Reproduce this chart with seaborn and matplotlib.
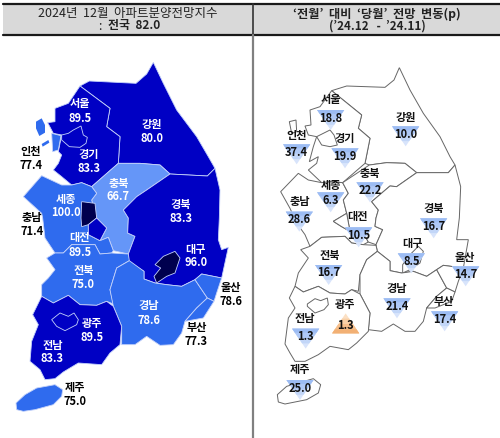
import matplotlib
matplotlib.use("Agg")
import matplotlib.pyplot as plt
import pandas as pd
import seaborn as sns

regions = ["서울", "인천", "경기", "강원", "충북", "세종", "충남", "대전", "경북", "대구", "전북", "울산", "경남", "부산", "광주", "전남", "제주"]
index_values = [89.5, 77.4, 83.3, 80.0, 66.7, 100.0, 71.4, 89.5, 83.3, 96.0, 75.0, 78.6, 78.6, 77.3, 89.5, 83.3, 75.0]
change_values = [18.8, 37.4, 19.9, 10.0, 22.2, 6.3, 28.6, 10.5, 16.7, 8.5, 16.7, 14.7, 21.4, 17.4, 1.3, 1.3, 25.0]
change_signs = ["하락"] * 14 + ["상승"] + ["하락"] * 2

# map outlines at 3x, y runs down the page
left_map = {
    "강원": [(240,258),(268,243),(408,250),(440,222),(460,187),(490,250),(530,330),(590,410),(625,470),(645,505),(622,528),(510,522),(480,495),(420,490),(355,490),(360,410),(320,380),(330,325)],
    "경기": [(240,258),(330,325),(320,380),(360,410),(355,490),(275,560),(245,548),(215,555),(185,530),(160,510),(175,490),(185,465),(175,455),(185,405),(160,400),(143,368),(165,365),(165,325),(205,310)],
    "충북": [(355,490),(420,490),(480,495),(510,522),(440,570),(410,590),(370,630),(385,654),(383,699),(405,709),(385,762),(340,752),(325,712),(300,722),(320,684),(290,654),(285,640),(275,600),(290,580),(275,560)],
    "충남": [(70,590),(125,527),(185,555),(215,555),(245,548),(275,560),(290,580),(275,600),(285,640),(290,654),(265,674),(265,704),(300,722),(325,712),(340,752),(335,759),(300,762),(285,734),(215,734),(190,759),(165,759),(135,714),(128,654),(125,640)],
    "세종": [(245,605),(285,610),(290,654),(265,674),(245,680),(243,654)],
    "대전": [(290,654),(320,684),(300,722),(265,704),(265,674)],
    "경북": [(510,522),(622,528),(645,505),(660,570),(658,654),(655,719),(665,749),(685,742),(665,834),(605,822),(585,839),(545,859),(500,854),(465,849),(432,837),(432,814),(385,784),(385,762),(405,709),(383,699),(385,654),(370,630),(410,590),(440,570)],
    "대구": [(465,794),(490,769),(525,754),(540,774),(525,819),(500,829),(470,849),(462,829),(482,804)],
    "전북": [(140,774),(165,759),(190,759),(215,734),(285,734),(300,762),(335,759),(385,762),(388,782),(350,804),(330,869),(340,912),(320,904),(290,916),(240,914),(205,886),(160,909),(125,889),(125,854),(145,834),(165,809)],
    "경남": [(330,869),(350,804),(388,782),(432,814),(432,837),(465,849),(500,854),(545,859),(585,839),(622,894),(590,924),(555,964),(545,999),(520,1034),(480,1036),(440,1009),(405,1034),(365,1034),(365,979),(340,919)],
    "울산": [(585,839),(605,822),(665,834),(650,879),(642,904),(622,894)],
    "부산": [(622,894),(642,904),(610,954),(555,964),(590,924)],
    "전남": [(125,889),(160,909),(205,886),(240,914),(290,916),(320,904),(340,919),(365,979),(360,1034),(330,1059),(305,1094),(235,1089),(190,1116),(165,1136),(135,1139),(120,1109),(90,1084),(95,1024),(115,974),(98,944)],
    "광주": [(155,959),(180,939),(205,949),(222,939),(235,959),(230,974),(195,992),(170,979)],
    "서울": [(185,405),(205,400),(220,390),(243,378),(250,405),(262,412),(258,430),(240,442),(208,440),(185,420)],
    "인천": [(155,400),(183,407),(175,450),(158,455)],
    "제주": [(48,1209),(75,1184),(110,1164),(165,1154),(188,1169),(185,1189),(160,1214),(105,1229),(70,1234),(50,1229)],
}
incheon_islands = [
    [(108,365),(125,355),(135,375),(135,398),(118,408),(108,385)],
    [(125,432),(145,420),(148,428),(128,440)],
]
right_map = {
    "강원": [(245,272),(290,258),(405,262),(432,240),(448,203),(480,270),(520,340),(570,410),(600,470),(615,495),(595,518),(500,518),(465,490),(410,488),(358,495),(345,490),(360,415),(325,385),(335,345)],
    "경기": [(245,272),(335,345),(325,385),(360,415),(345,490),(278,548),(245,545),(215,548),(175,510),(200,490),(205,470),(178,485),(190,440),(200,410),(175,405),(165,378),(183,375),(180,330),(210,320)],
    "서울": [(200,410),(240,390),(252,405),(262,435),(240,440),(215,435)],
    "인천": [(118,365),(138,360),(140,395),(125,400)],
    "충남": [(92,575),(145,520),(175,540),(215,548),(245,545),(278,548),(295,580),(280,600),(290,640),(250,664),(275,680),(300,694),(340,699),(355,726),(340,734),(305,729),(285,709),(215,712),(180,739),(165,704),(140,669),(120,625)],
    "충북": [(358,495),(410,488),(465,490),(500,518),(440,560),(420,558),(365,605),(385,630),(378,654),(375,679),(398,689),(378,734),(355,726),(340,699),(300,694),(290,640),(280,600),(295,580),(278,548)],
    "대전": [(250,664),(290,640),(300,694),(275,680)],
    "경북": [(500,518),(595,518),(615,495),(632,560),(628,654),(620,719),(655,719),(640,804),(580,796),(560,809),(530,829),(490,814),(455,819),(420,812),(420,784),(382,754),(378,734),(398,689),(375,679),(378,654),(385,630),(365,605),(420,558),(440,560)],
    "대구": [(458,794),(480,764),(505,739),(520,754),(510,789),(480,809),(458,819)],
    "전북": [(152,749),(180,739),(215,712),(285,709),(305,729),(340,734),(378,736),(382,754),(350,779),(330,824),(325,874),(305,869),(285,882),(240,879),(205,859),(160,876),(135,859),(145,819),(175,774)],
    "경남": [(330,824),(350,779),(382,754),(420,784),(420,812),(455,819),(490,814),(530,829),(560,809),(590,864),(560,889),(530,924),(520,964),(495,994),(465,994),(430,972),(395,994),(355,989),(360,939),(330,882)],
    "울산": [(560,809),(580,796),(640,804),(625,844),(615,876),(590,864)],
    "부산": [(590,864),(615,876),(605,904),(555,924),(530,924),(560,889)],
    "전남": [(135,859),(160,876),(205,859),(240,879),(285,882),(305,869),(330,882),(360,939),(355,994),(320,1029),(295,1049),(240,1039),(205,1064),(165,1084),(135,1084),(120,1059),(105,1032),(115,954),(135,924),(118,894)],
    "광주": [(172,912),(195,896),(212,902),(232,894),(235,914),(222,929),(195,939),(172,919)],
    "제주": [(82,1184),(110,1159),(190,1136),(212,1154),(205,1179),(170,1199),(105,1212),(85,1206)],
}

# label spots, 3x px, left picture: name centre, right picture: name centre and triangle centre
left_spots = {
    "서울": (241,333), "인천": (92,476), "경기": (267,485), "강원": (455,394), "충북": (355,570), "세종": (197,618),
    "충남": (96,674), "대전": (239,735), "경북": (543,634), "대구": (587,768), "전북": (250,833), "울산": (692,884),
    "경남": (447,939), "부산": (589,1004), "광주": (275,991), "전남": (157,1056), "제주": (225,1184),
}
right_spots = {
    "서울": (243,300), "인천": (140,406), "경기": (284,415), "강원": (467,352), "충북": (360,520), "세종": (242,557),
    "충남": (148,604), "대전": (324,650), "경북": (551,625), "대구": (487,731), "전북": (238,768), "울산": (645,773),
    "경남": (441,865), "부산": (582,905), "광주": (286,914), "전남": (165,955), "제주": (150,1110),
}
right_marks = {
    "서울": (242,360), "인천": (140,463), "경기": (285,475), "강원": (467,409), "충북": (360,577), "세종": (242,607),
    "충남": (148,665), "대전": (326,712), "경북": (551,685), "대구": (484,790), "전북": (236,825), "울산": (647,829),
    "경남": (441,925), "부산": (584,964), "광주": (287,970), "전남": (167,1016), "제주": (150,1170),
}

sns.set_theme(style="white")
plt.rcParams["font.family"] = ["Noto Sans CJK KR", "DejaVu Sans"]


def fill_color(value):
    if value >= 95:
        return "#00004e"
    if value >= 80:
        return "#0000c4"
    if value >= 70:
        return "#2f6bee"
    return "#6596f8"


def scaled(points, dx=0):
    return [(x / 3 + dx) for x, y in points], [y / 3 for x, y in points]


def band(y_top, y_bottom):
    # slice of a down-pointing triangle between two heights, keeps the full triangle scale
    half_top = (y_top + 0.74) / 1.48
    half_bottom = (y_bottom + 0.74) / 1.48
    return [(-half_top, y_top), (half_top, y_top), (half_bottom, y_bottom), (-half_bottom, y_bottom)]


def flipped(shape):
    return [(x, -y) for x, y in shape]


fig = plt.figure(figsize=(5, 4.38), dpi=100)
ax = fig.add_axes([0, 0, 1, 1])

# table header
ax.fill_between([3, 500], 5, 35, color="#d9d9d9", lw=0, zorder=0)
ax.plot([3, 500], [4, 4], color="#1a1a1a", lw=1.6)
ax.plot([3, 500], [35, 35], color="#1a1a1a", lw=1.6)
ax.plot([252.7, 252.7], [4, 35], color="#333333", lw=1.2)
ax.plot([252.7, 252.7], [35, 438], color="#808080", lw=1.6)

ax.text(128, 14, "2024년  12월  아파트분양전망지수", ha="center", va="center", fontsize=9, color="#222222")
ax.text(98, 26, ":", ha="left", va="center", fontsize=8.6, color="#222222")
ax.text(108, 26, "전국  82.0", ha="left", va="center", fontsize=8.6, fontweight="bold", color="#222222")
ax.text(377, 14, "‘전월’  대비  ‘당월’  전망  변동(p)", ha="center", va="center", fontsize=8.8, fontweight="bold", color="#222222")
ax.text(377, 26, "(’24.12   -  ’24.11)", ha="center", va="center", fontsize=8.4, fontweight="bold", color="#222222")

# left map
index_by_region = dict(zip(regions, index_values))
for name, outline in left_map.items():
    xs, ys = scaled(outline)
    ax.fill(xs, ys, facecolor=fill_color(index_by_region[name]), edgecolor="#c4d2fa", lw=0.6, zorder=2)
for outline in incheon_islands:
    xs, ys = scaled(outline)
    ax.fill(xs, ys, facecolor=fill_color(index_by_region["인천"]), edgecolor="none", zorder=2)

outside = {"인천", "충남", "울산", "부산", "제주"}
for name, value in zip(regions, index_values):
    x, y = left_spots[name]
    color = "black" if name in outside else "white"
    ax.text(x / 3, y / 3 - 7, name, ha="center", va="center", fontsize=8, fontweight="bold", color=color, zorder=4)
    ax.text(x / 3, y / 3 + 7, f"{value:.1f}", ha="center", va="center", fontsize=8, fontweight="bold", color=color, zorder=4)

# right map
for name, outline in right_map.items():
    xs, ys = scaled(outline, dx=250)
    ax.fill(xs, ys, facecolor="white", edgecolor="#666666", lw=0.7, zorder=2)

marks = pd.DataFrame({
    "region": regions,
    "change": change_values,
    "sign": change_signs,
    "x": [right_marks[r][0] / 3 + 250 for r in regions],
    "y": [right_marks[r][1] / 3 for r in regions],
})
down = marks[marks["sign"] == "하락"]
up = marks[marks["sign"] == "상승"]

# triangles fade from the wide end, so stack slices to fake the gradient
# marker shapes are in screen sense, the flipped y axis does not touch them
slices = [(0.74, -0.74), (0.74, -0.35), (0.74, 0.05), (0.74, 0.45)]
down_colors = ["#d8e4fb", "#c2d6f8", "#aec8f6", "#9cbcf3"]
up_colors = ["#fbe0c4", "#f9d0a6", "#f6bf8c", "#f2b074"]
marker_size = 27 ** 2 * (72 / 100) ** 2
for (y_top, y_bottom), down_color, up_color in zip(slices, down_colors, up_colors):
    shape = band(y_top, y_bottom)
    if y_bottom == -0.74:
        # full triangle needs width 1 anyway
        shape = [(-1, 0.74), (1, 0.74), (0, -0.74)]
    sns.scatterplot(data=down, x="x", y="y", marker=shape, s=marker_size, color=down_color, edgecolor="none", linewidth=0, ax=ax, zorder=3, legend=False)
    sns.scatterplot(data=up, x="x", y="y", marker=flipped(shape), s=marker_size, color=up_color, edgecolor="none", linewidth=0, ax=ax, zorder=3, legend=False)

for row in marks.itertuples():
    x, y = right_spots[row.region]
    ax.text(x / 3 + 250, y / 3, row.region, ha="center", va="center", fontsize=8, fontweight="bold", color="#111111", zorder=4)
    ax.text(row.x, row.y - 2 if row.sign == "하락" else row.y + 2, f"{row.change:.1f}", ha="center", va="center", fontsize=8, fontweight="bold", color="#111111", zorder=4)

ax.set_xlim(0, 500)
ax.set_ylim(438, 0)
ax.axis("off")
fig.savefig("out.png", dpi=100)
